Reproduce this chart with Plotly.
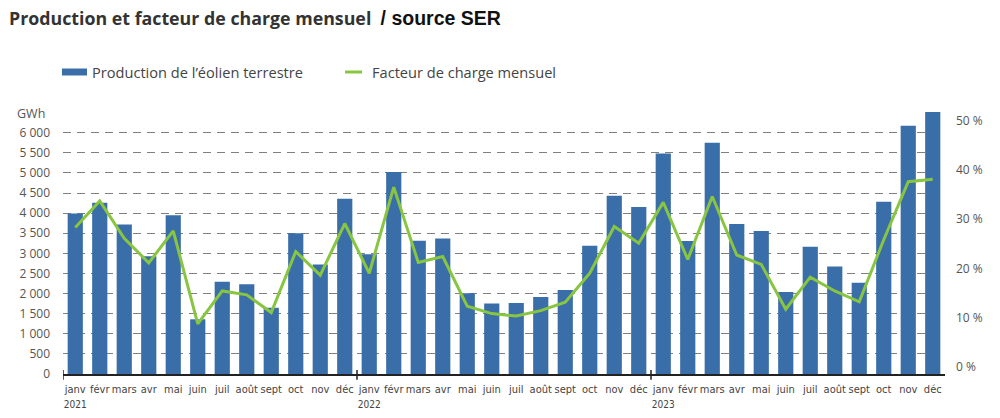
import plotly.graph_objects as go

months = ["janv", "févr", "mars", "avr", "mai", "juin", "juil", "août", "sept", "oct", "nov", "déc"]
years = ["2021", "2022", "2023"]

production_gwh = [
    3990, 4260, 3720, 2930, 3945, 1360, 2295, 2230, 1650, 3500, 2725, 4360,
    2975, 5020, 3315, 3370, 2005, 1750, 1765, 1915, 2090, 3190, 4435, 4150,
    5485, 3305, 5750, 3730, 3555, 2040, 3165, 2670, 2270, 4285, 6175, 6515,
]
facteur_charge_pct = [
    28.3, 33.7, 26.1, 21.1, 27.6, 8.7, 15.4, 14.6, 11.0, 23.4, 18.6, 29.1,
    19.0, 36.5, 21.2, 22.4, 12.3, 10.8, 10.3, 11.4, 13.1, 19.0, 28.5, 25.1,
    33.4, 21.8, 34.6, 22.7, 20.8, 11.7, 18.2, 15.4, 13.2, 25.8, 37.6, 38.1,
]
left_ticks = [0, 500, 1000, 1500, 2000, 2500, 3000, 3500, 4000, 4500, 5000, 5500, 6000]
right_ticks = [0, 10, 20, 30, 40, 50]

n = len(production_gwh)
x_idx = list(range(n))
tick_text = []
for i in range(n):
    m = months[i % 12]
    if i % 12 == 0:
        tick_text.append(f"{m}<br><span style='font-size:10px'>{years[i // 12]}</span>")
    else:
        tick_text.append(m)

BLUE = "#3A6EA8"
GREEN = "#88C540"

# pixel geometry of the plot area
L, R, T, B = 63, 945, 108, 374
W, H = R - L, B - T

def px(xp):
    return (xp - L) / W

def py(yp):
    return (B - yp) / H

fig = go.Figure()
fig.add_trace(go.Bar(
    x=x_idx, y=production_gwh, name="Production de l’éolien terrestre",
    marker=dict(color=BLUE, line=dict(width=0)), width=0.62,
))
fig.add_trace(go.Scatter(
    x=x_idx, y=facteur_charge_pct, name="Facteur de charge mensuel",
    mode="lines", line=dict(color=GREEN, width=3), yaxis="y2",
))

shapes = []
for k in range(len(years)):
    xb = k * 12 - 0.5
    shapes.append(dict(type="line", xref="x", yref="paper", x0=xb, x1=xb,
                       y0=-0.022, y1=0.015, line=dict(color="#222", width=1.5)))
# custom legend symbols
shapes.append(dict(type="rect", xref="paper", yref="paper",
                   x0=px(62), x1=px(87), y0=py(75.5), y1=py(68.5),
                   fillcolor=BLUE, line=dict(width=0)))
shapes.append(dict(type="line", xref="paper", yref="paper",
                   x0=px(345), x1=px(362), y0=py(72), y1=py(72),
                   line=dict(color=GREEN, width=3)))

annotations = [
    dict(text="Production de l’éolien terrestre", xref="paper", yref="paper",
         x=px(90), y=py(72), xanchor="left", yanchor="middle", showarrow=False,
         font=dict(family="Open Sans", size=14.6, color="#444")),
    dict(text="Facteur de charge mensuel", xref="paper", yref="paper",
         x=px(370), y=py(72), xanchor="left", yanchor="middle", showarrow=False,
         font=dict(family="Open Sans", size=14.6, color="#444")),
    dict(text="GWh", xref="paper", yref="paper",
         x=px(15), y=py(113), xanchor="left", yanchor="middle", showarrow=False,
         font=dict(family="Open Sans", size=12.5, color="#555")),
]

left_labels = [f"{v:,}".replace(",", " ") for v in left_ticks]
right_labels = [f"{v} %" for v in right_ticks]

fig.update_layout(
    width=1000, height=418,
    margin=dict(l=L, r=1000 - R, t=T, b=418 - B, autoexpand=False),
    paper_bgcolor="white", plot_bgcolor="white",
    showlegend=False,
    title=dict(
        text="<b>Production et facteur de charge mensuel</b>  "
             "<b><span style='font-family:Liberation Sans, Arial;color:#111;font-size:19.5px'>/ source SER</span></b>",
        x=0.009, xref="container", xanchor="left",
        y=1 - 19 / 418, yref="container", yanchor="middle",
        font=dict(family="Open Sans", size=17.8, color="#333"),
    ),
    xaxis=dict(
        tickmode="array", tickvals=x_idx, ticktext=tick_text,
        range=[-0.5, n - 0.5], showgrid=False, ticks="", tickangle=0,
        showline=True, linecolor="#222", linewidth=2, automargin=False,
        tickfont=dict(family="DejaVu Sans Condensed, Liberation Sans Narrow", size=11, color="#444"),
        ticklabelstandoff=4, zeroline=False,
    ),
    yaxis=dict(
        range=[0, 6614], tickmode="array", tickvals=left_ticks, ticktext=left_labels,
        showgrid=True, gridcolor="#7f7f7f", griddash="8px,6px", gridwidth=1.2,
        zeroline=False, ticks="", ticklabelstandoff=12, automargin=False,
        tickfont=dict(family="Open Sans", size=12, color="#555"),
    ),
    yaxis2=dict(
        overlaying="y", side="right", range=[-1.48, 52.58],
        tickmode="array", tickvals=right_ticks, ticktext=right_labels,
        showgrid=False, zeroline=False, ticks="", ticklabelstandoff=10, automargin=False,
        tickfont=dict(family="Open Sans", size=12, color="#555"),
    ),
    shapes=shapes,
    annotations=annotations,
)

fig.write_html("out.html", post_script="document.body.style.margin='0';",
               config={"displayModeBar": False})
